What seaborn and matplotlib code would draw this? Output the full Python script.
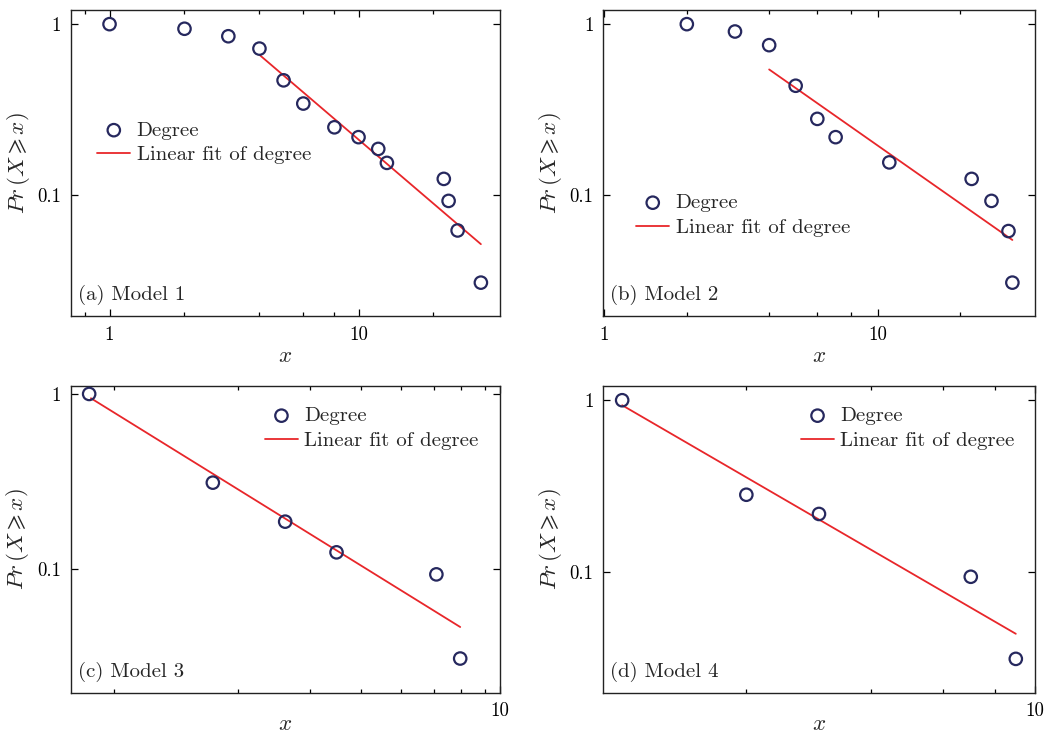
"""Cumulative degree distributions of four models, log-log with linear fits."""

import matplotlib
matplotlib.use("Agg")
import matplotlib.pyplot as plt
import matplotlib.ticker as mticker
import pandas as pd
import seaborn as sns

# --- data ---
a_x = [1, 2, 3, 4, 5, 6, 8, 10, 12, 13, 22, 23, 25, 31]
a_y = [1.0, 0.94, 0.85, 0.72, 0.47, 0.344, 0.25, 0.219, 0.187, 0.155, 0.125, 0.093, 0.0625, 0.031]
a_fit_x = [4, 31]
a_fit_y = [0.662, 0.052]

b_x = [2, 3, 4, 5, 6, 7, 11, 22, 26, 30, 31]
b_y = [1.0, 0.906, 0.754, 0.437, 0.28, 0.219, 0.156, 0.125, 0.093, 0.062, 0.031]
b_fit_x = [4, 31]
b_fit_y = [0.544, 0.055]

c_x = [1, 2, 3, 4, 7, 8]
c_y = [1.0, 0.312, 0.187, 0.125, 0.0936, 0.031]
c_fit_x = [1.01, 8]
c_fit_y = [0.945, 0.0469]

d_x = [1, 2, 3, 7, 9]
d_y = [1.0, 0.282, 0.218, 0.094, 0.0313]
d_fit_x = [1, 9]
d_fit_y = [0.935, 0.0438]

panel_labels = ["(a) Model 1", "(b) Model 2", "(c) Model 3", "(d) Model 4"]

sns.set_style("ticks")
plt.rcParams["font.family"] = ["serif"]
plt.rcParams["font.serif"] = ["cmr10", "DejaVu Serif"]
plt.rcParams["mathtext.fontset"] = "cm"
plt.rcParams["axes.formatter.use_mathtext"] = True
plt.rcParams["axes.unicode_minus"] = False

NAVY = "#26285e"
RED = "#e8262a"
TICK_FS = 13.5
TEXT_FS = 15
LABEL_FS = 16.5

fig = plt.figure(figsize=(10.56, 7.33), dpi=100)

panels = [
    # (data, fit, rect, xlim, ylim, xmajor, xminor, legend anchor, xlabel y)
    ((a_x, a_y), (a_fit_x, a_fit_y), [0.0672, 0.5689, 0.4063, 0.4175],
     (0.70, 37), (0.0198, 1.21), [1, 10], None, (0.061, 0.637), -0.10),
    ((b_x, b_y), (b_fit_x, b_fit_y), [0.5713, 0.5689, 0.4085, 0.4175],
     (0.99, 37.4), (0.0198, 1.21), [1, 10], None, (0.076, 0.400), -0.10),
    ((c_x, c_y), (c_fit_x, c_fit_y), [0.0670, 0.0550, 0.4065, 0.4184],
     (0.902, 10), (0.0198, 1.11), [10], [1.15, 2.3, 3.45, 4.6, 5.75, 6.9, 8.05, 9.2],
     (0.452, 0.933), -0.07),
    ((d_x, d_y), (d_fit_x, d_fit_y), [0.5713, 0.0550, 0.4085, 0.4184],
     (0.90, 10), (0.0199, 1.21), [10], [2, 4, 6, 8], (0.458, 0.933), -0.07),
]

for (pts, fit, rect, xlim, ylim, xmajor, xminor, anchor, xlab_y), label in zip(panels, panel_labels):
    ax = fig.add_axes(rect)
    pts_df = pd.DataFrame({"x": pts[0], "y": pts[1]})
    fit_df = pd.DataFrame({"x": fit[0], "y": fit[1]})

    sns.scatterplot(data=pts_df, x="x", y="y", ax=ax, marker="o", s=80,
                    facecolors="none", edgecolor=NAVY, linewidth=1.6,
                    label="Degree", zorder=3)
    sns.lineplot(data=fit_df, x="x", y="y", ax=ax, color=RED, linewidth=1.3,
                 label="Linear fit of degree", zorder=2)

    ax.set_xscale("log")
    ax.set_yscale("log")
    ax.set_xlim(*xlim)
    ax.set_ylim(*ylim)

    ax.xaxis.set_major_locator(mticker.FixedLocator(xmajor))
    if xminor is None:
        ax.xaxis.set_minor_locator(mticker.LogLocator(base=10, subs=(2, 4, 6, 8), numticks=20))
    else:
        ax.xaxis.set_minor_locator(mticker.FixedLocator(xminor))
    ax.xaxis.set_minor_formatter(mticker.NullFormatter())
    ax.xaxis.set_major_formatter(mticker.FuncFormatter(lambda v, p: f"{v:g}"))

    ax.yaxis.set_major_locator(mticker.FixedLocator([0.1, 1]))
    ax.yaxis.set_minor_locator(mticker.NullLocator())
    ax.yaxis.set_major_formatter(mticker.FuncFormatter(lambda v, p: f"{v:g}"))

    ax.tick_params(which="both", direction="in", top=True, right=True,
                   labelsize=TICK_FS, width=0.9, colors="black")
    ax.tick_params(which="major", length=5, pad=7)
    ax.tick_params(which="minor", length=3)
    for sp in ax.spines.values():
        sp.set_linewidth(1.0)
        sp.set_color("#222222")

    ax.set_xlabel(r"$x$", fontsize=LABEL_FS)
    ax.xaxis.set_label_coords(0.5, xlab_y)
    ax.set_ylabel(r"$Pr\,(X \geqslant x)$", fontsize=LABEL_FS, labelpad=4)

    ax.text(0.016, 0.035, label, transform=ax.transAxes, fontsize=TEXT_FS,
            ha="left", va="bottom")

    ax.legend(loc="upper left", bbox_to_anchor=anchor, frameon=False,
              fontsize=TEXT_FS, borderpad=0, borderaxespad=0, handlelength=1.6,
              handletextpad=0.3, labelspacing=0.3)

fig.savefig("out.png", dpi=100)
